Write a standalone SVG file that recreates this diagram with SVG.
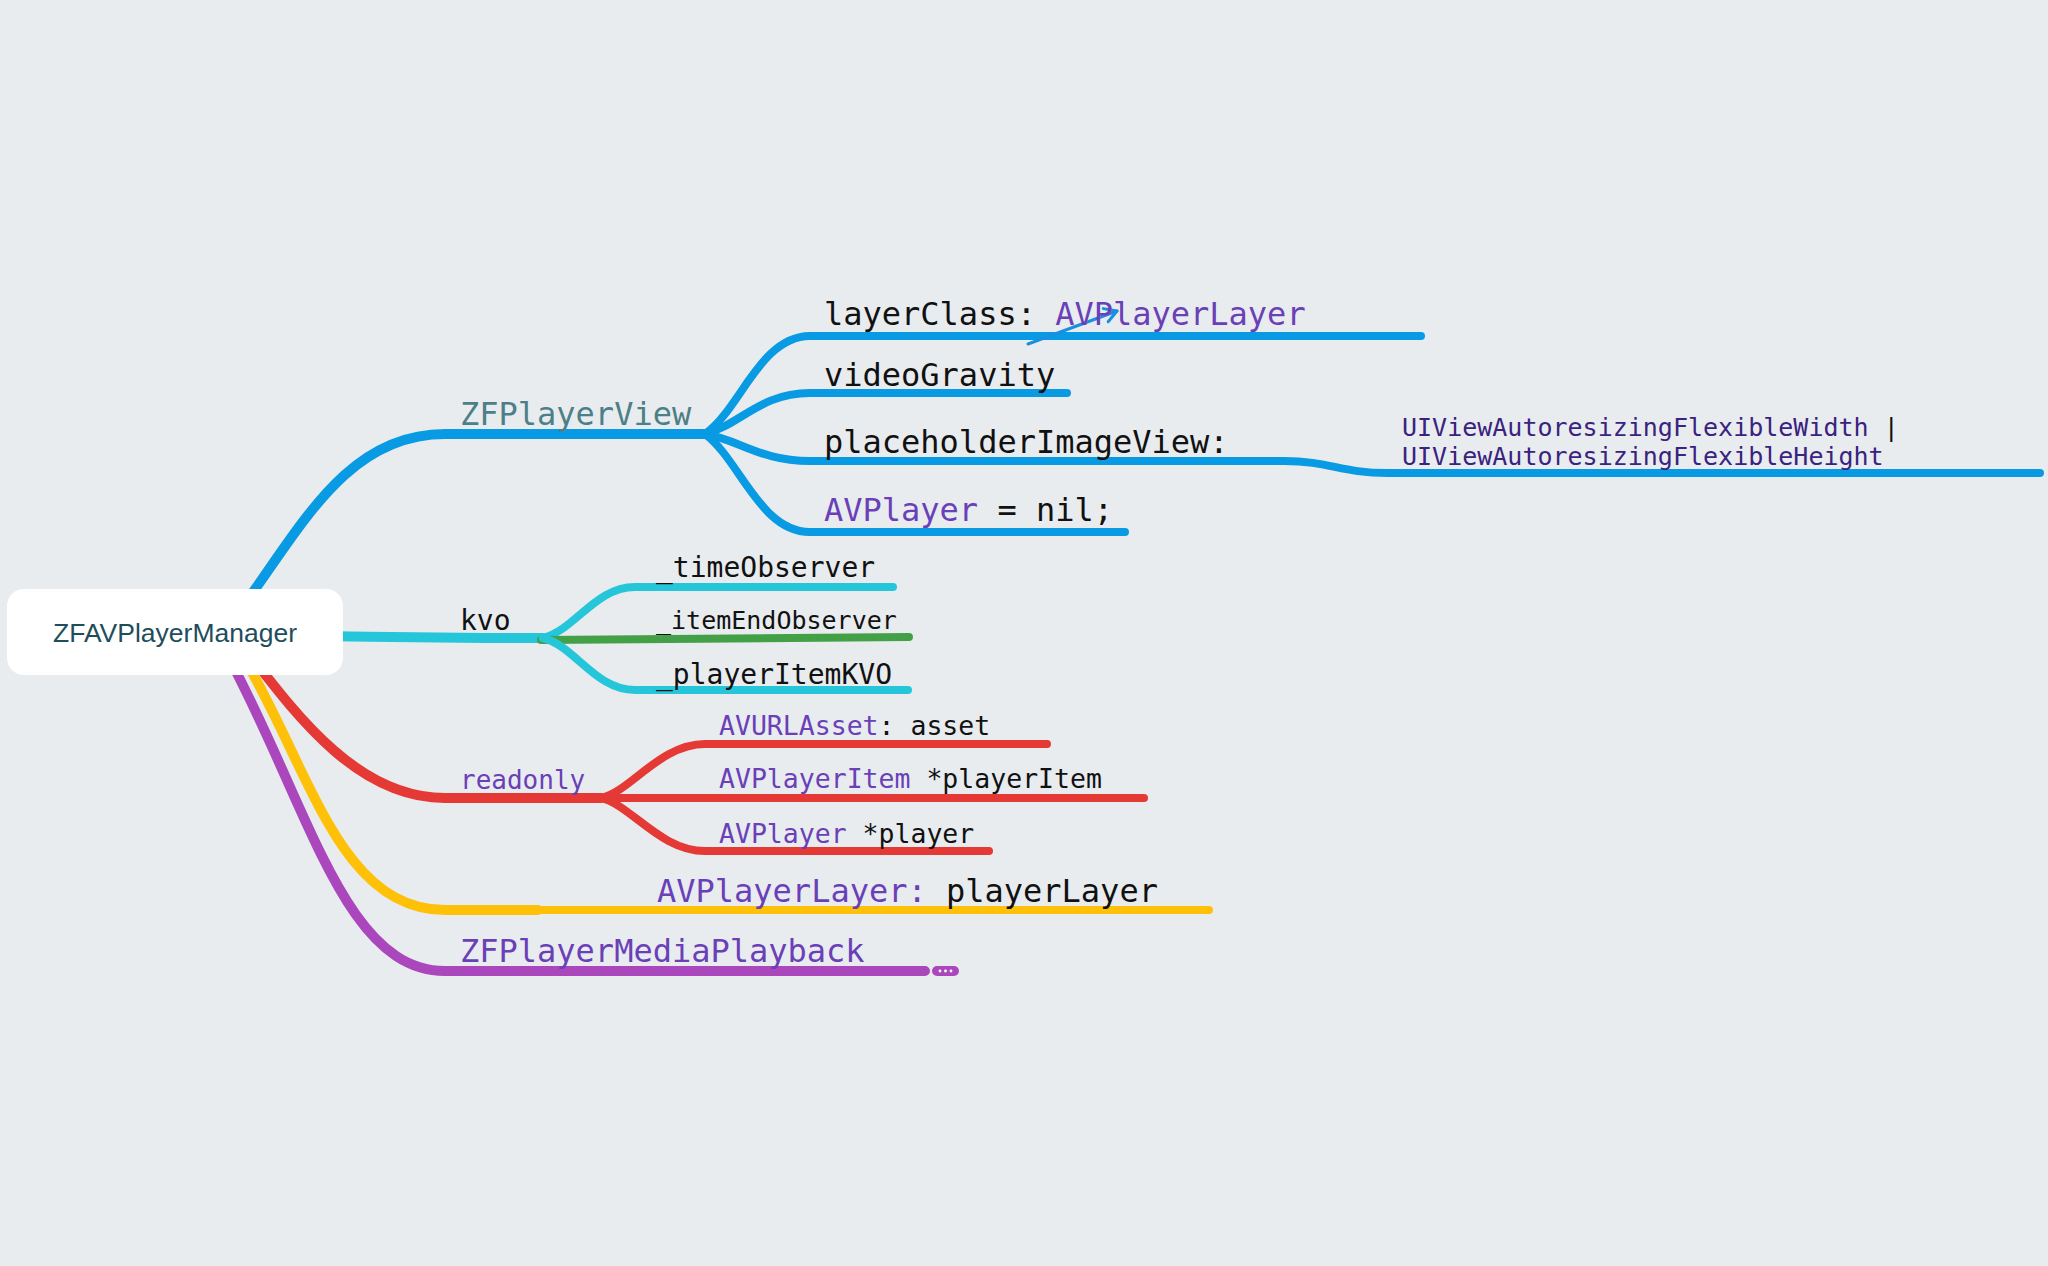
<svg xmlns="http://www.w3.org/2000/svg" width="2048" height="1266" viewBox="0 0 2048 1266">
<defs>
<style>
.m{font-family:"DejaVu Sans Mono","Liberation Mono",monospace;fill:#111}
.p{fill:#6a3fb8}
.ln{fill:none;stroke-linecap:round;stroke-linejoin:round}
.main{stroke-width:10}
.sub{stroke-width:8}
.b{stroke:#089ae2}.c{stroke:#26c6da}.g{stroke:#43a047}.r{stroke:#e53935}.y{stroke:#ffc107}.v{stroke:#ab47bc}
</style>
<marker id="ah" viewBox="0 0 20 20" refX="16" refY="10" markerWidth="20" markerHeight="20" markerUnits="userSpaceOnUse" orient="auto">
<path d="M4,3 L16,10 L4,17" fill="none" stroke="#1a8fe0" stroke-width="3" stroke-linecap="round" stroke-linejoin="round"/>
</marker>
</defs>
<rect width="2048" height="1266" fill="#e8ecef"/>
<g id="connectors">
<path class="ln main b" d="M240,610 C300,530 345,434 445,434 L708,434"/>
<path class="ln sub b" d="M705,434 C740,410 760,336 810,336 L1421,336"/>
<path class="ln sub b" d="M705,434 C740,425 760,393 810,393 L1067,393"/>
<path class="ln sub b" d="M705,434 C740,440 760,461 810,461 L1284,461 C1330,461 1340,473 1388,473 L2040,473"/>
<path class="ln sub b" d="M705,434 C740,460 760,532 810,532 L1125,532"/>
<path class="ln" d="M1028,344 L1117,311" stroke="#1a8fe0" stroke-width="3" marker-end="url(#ah)"/>
<path class="ln main c" d="M330,636 C420,638 480,638 543,638"/>
<path class="ln sub c" d="M543,638 C575,630 595,587 635,587 L893,587"/>
<path class="ln sub g" d="M541,640 L909,637"/>
<path class="ln sub c" d="M543,638 C575,646 595,690 635,690 L908,690"/>
<path class="ln main r" d="M250,655 C300,720 360,798 445,798 L601,798"/>
<path class="ln sub r" d="M601,798 C630,792 660,744 705,744 L1047,744"/>
<path class="ln sub r" d="M601,798 L1144,798"/>
<path class="ln sub r" d="M601,798 C630,804 660,851 705,851 L989,851"/>
<path class="ln main y" d="M245,660 C310,770 340,910 445,910 L538,910"/>
<path class="ln sub y" d="M538,910 L1209,910"/>
<path class="ln main v" d="M230,660 C310,810 345,971 445,971 L925,971"/>
</g>
<g id="root">
<rect x="7" y="589" width="336" height="86" rx="17" fill="#ffffff"/>
<text x="175" y="642" text-anchor="middle" font-family="Liberation Sans, Arial, sans-serif" font-size="26.5" fill="#1e4d5c">ZFAVPlayerManager</text>
</g>
<g id="zfplayerview"><text class="m" x="460" y="425" font-size="32" style="fill:#4d7f88">ZFPlayerView</text></g>
<g id="layerclass"><text class="m" x="824" y="325" font-size="32">layerClass: <tspan class="p">AVPlayerLayer</tspan></text></g>
<g id="videogravity"><text class="m" x="824" y="386" font-size="32">videoGravity</text></g>
<g id="placeholder"><text class="m" x="824" y="453" font-size="32">placeholderImageView:</text></g>
<g id="autoresizing"><text class="m" font-size="25" style="fill:#3a2280"><tspan x="1402" y="436">UIViewAutoresizingFlexibleWidth <tspan style="fill:#111">|</tspan></tspan><tspan x="1402" y="465">UIViewAutoresizingFlexibleHeight</tspan></text></g>
<g id="avplayernil"><text class="m" x="824" y="521" font-size="32"><tspan class="p">AVPlayer</tspan> = nil;</text></g>
<g id="kvo"><text class="m" x="460" y="630" font-size="28">kvo</text></g>
<g id="timeobserver"><text class="m" x="656" y="577" font-size="28">_timeObserver</text></g>
<g id="itemendobserver"><text class="m" x="656" y="629" font-size="25">_itemEndObserver</text></g>
<g id="playeritemkvo"><text class="m" x="656" y="684" font-size="28">_playerItemKVO</text></g>
<g id="readonly"><text class="m p" x="460" y="789" font-size="26">readonly</text></g>
<g id="asset"><text class="m" x="719" y="735" font-size="26.5"><tspan class="p">AVURLAsset</tspan>: asset</text></g>
<g id="playeritem"><text class="m" x="719" y="788" font-size="26.5"><tspan class="p">AVPlayerItem</tspan> *playerItem</text></g>
<g id="player"><text class="m" x="719" y="843" font-size="26.5"><tspan class="p">AVPlayer</tspan> *player</text></g>
<g id="playerlayer"><text class="m" x="657" y="902" font-size="32"><tspan class="p">AVPlayerLayer:</tspan> playerLayer</text></g>
<g id="mediaplayback">
<text class="m p" x="460" y="962" font-size="32">ZFPlayerMediaPlayback</text>
<rect x="932" y="966" width="27" height="10" rx="5" fill="#ab47bc"/>
<circle cx="940" cy="971" r="1.4" fill="#fff"/><circle cx="945.5" cy="971" r="1.4" fill="#fff"/><circle cx="951" cy="971" r="1.4" fill="#fff"/>
</g>
</svg>
